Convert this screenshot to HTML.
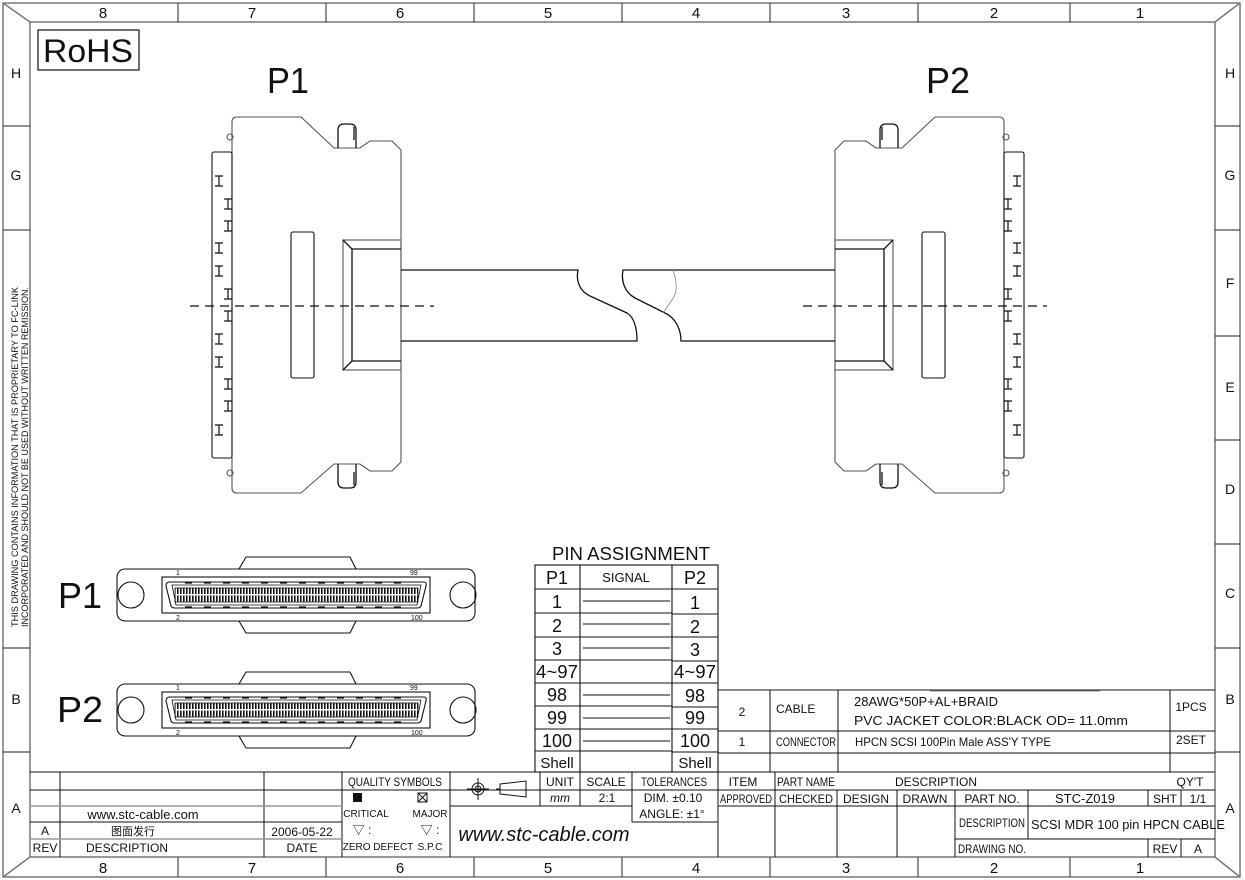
<!DOCTYPE html>
<html><head><meta charset="utf-8"><style>
html,body{margin:0;padding:0;background:#fff}
svg{display:block}
text{font-family:"Liberation Sans","Noto Sans CJK SC",sans-serif;fill:#111}
</style></head><body>
<svg width="1245" height="880" viewBox="0 0 1245 880" xmlns="http://www.w3.org/2000/svg">
<defs>
<pattern id="pins" x="0" y="0" width="3" height="14" patternUnits="userSpaceOnUse">
<rect x="0" y="0" width="1.6" height="6" fill="#111"/>
<rect x="0" y="7.5" width="1.6" height="6" fill="#111"/>
</pattern>
<g id="hh"><path d="M-4,-5H4M0,-5V5M-4,5H4" stroke="#111" stroke-width="1.2" fill="none"/></g>
<g id="conn" fill="none" stroke="#111" stroke-width="1.1">
 <path d="M232,122 Q232,117 237,117 L301,117 L334,148 L360,148 L370,141 L392,141 L401,150 L401,462 L392,471 L370,471 L360,464 L334,464 L301,493 L237,493 Q232,493 232,488 Z" stroke="#555"/>
 <path d="M338,148 V130 Q338,124 344,124 H350 Q356,124 356,130 V148" stroke-width="1.3"/>
 <path d="M354,127 V140" stroke-width="1.3"/>
 <path d="M338,464 V482 Q338,488 344,488 H350 Q356,488 356,482 V464" stroke-width="1.3"/>
 <path d="M354,472 V485" stroke-width="1.3"/>
 <circle cx="230" cy="137" r="3" stroke="#555"/>
 <circle cx="230" cy="473" r="3" stroke="#555"/>
 <rect x="212" y="152" width="20" height="306" rx="2"/>
 <rect x="291" y="232" width="23" height="146" rx="2"/>
 <rect x="343" y="240" width="58" height="130" stroke="#555"/>
 <path d="M401,249 H352 V361 H401 M343,240 L352,249 M343,370 L352,361" stroke-width="1.3"/>
 <use href="#hh" x="219" y="181"/><use href="#hh" x="228" y="204"/><use href="#hh" x="228" y="226"/>
 <use href="#hh" x="219" y="248"/><use href="#hh" x="219" y="271"/><use href="#hh" x="228" y="294"/>
 <use href="#hh" x="228" y="316"/><use href="#hh" x="219" y="339"/><use href="#hh" x="219" y="362"/>
 <use href="#hh" x="228" y="384"/><use href="#hh" x="228" y="406"/><use href="#hh" x="219" y="430"/>
</g>
<g id="mdr" fill="none" stroke="#111" stroke-width="1.1">
 <rect x="117" y="569" width="358" height="52" rx="8"/>
 <path d="M239,569 L246,557 H350 L356,569 M239,621 L246,633 H350 L356,621"/>
 <circle cx="131" cy="595" r="13"/>
 <circle cx="463" cy="595" r="13"/>
 <rect x="162" y="577" width="268" height="36"/>
 <path d="M170,582 H424 Q427,582 426,586 L421,606 Q420,608 417,608 H175 Q172,608 171,606 L166,586 Q166,582 170,582 Z"/>
 <path d="M172,585 H421 L417,605 H176 Z" stroke-width="0.8"/>
 <path d="M185,583 H410 M185,607 H410" stroke-dasharray="7,12" stroke-width="1.2"/>
 <rect x="175" y="588" width="243" height="14" fill="url(#pins)" stroke="none"/>
 <rect x="175" y="588" width="243" height="14" stroke-width="0.8"/>
</g>
</defs>

<!-- border -->
<g fill="none" stroke="#777" stroke-width="1.5">
 <rect x="3" y="3" width="1237" height="874"/>
 <rect x="30" y="22" width="1185" height="835"/>
 <path d="M3,3 L30,22 M1240,3 L1215,22 M3,877 L30,857 M1240,877 L1215,857"/>
</g>
<g stroke="#222" stroke-width="1">
 <path d="M178,3V22 M326,3V22 M474,3V22 M622,3V22 M770,3V22 M918,3V22 M1070,3V22"/>
 <path d="M178,857V877 M326,857V877 M474,857V877 M622,857V877 M770,857V877 M918,857V877 M1070,857V877"/>
 <path d="M3,126H30 M3,230H30 M3,648H30 M3,752H30"/>
 <path d="M1215,126H1240 M1215,230H1240 M1215,336H1240 M1215,440H1240 M1215,544H1240 M1215,648H1240 M1215,752H1240"/>
</g>
<g font-size="15" text-anchor="middle" fill="#333">
 <text x="103" y="18">8</text><text x="252" y="18">7</text><text x="400" y="18">6</text><text x="548" y="18">5</text><text x="696" y="18">4</text><text x="846" y="18">3</text><text x="994" y="18">2</text><text x="1140" y="18">1</text>
 <text x="103" y="873">8</text><text x="252" y="873">7</text><text x="400" y="873">6</text><text x="548" y="873">5</text><text x="696" y="873">4</text><text x="846" y="873">3</text><text x="994" y="873">2</text><text x="1140" y="873">1</text>
</g>
<g font-size="14" text-anchor="middle" fill="#333">
 <text x="16" y="78">H</text><text x="16" y="180">G</text><text x="16" y="704">B</text><text x="16" y="813">A</text>
 <text x="1230" y="78">H</text><text x="1230" y="180">G</text><text x="1230" y="288">F</text><text x="1230" y="392">E</text><text x="1230" y="494">D</text><text x="1230" y="598">C</text><text x="1230" y="704">B</text><text x="1230" y="813">A</text>
</g>
<g font-size="9" fill="#222">
 <text transform="translate(18,627) rotate(-90)" textLength="340" lengthAdjust="spacingAndGlyphs">THIS DRAWING CONTAINS INFORMATION THAT IS PROPRIETARY TO FC-LINK</text>
 <text transform="translate(28,627) rotate(-90)" textLength="340" lengthAdjust="spacingAndGlyphs">INCORPORATED AND SHOULD NOT BE USED WITHOUT WRITTEN REMISSION.</text>
</g>

<!-- RoHS -->
<rect x="38" y="30" width="101" height="40" fill="none" stroke="#111" stroke-width="1.2"/>
<text x="88" y="62" font-size="32" text-anchor="middle" fill="#333" textLength="90" lengthAdjust="spacingAndGlyphs">RoHS</text>
<text x="288" y="93" font-size="36" text-anchor="middle" fill="#555" textLength="42" lengthAdjust="spacingAndGlyphs">P1</text>
<text x="948" y="93" font-size="36" text-anchor="middle" fill="#555" textLength="44" lengthAdjust="spacingAndGlyphs">P2</text>

<!-- connectors -->
<use href="#conn"/>
<use href="#conn" transform="translate(1236,0) scale(-1,1)"/>
<g fill="none" stroke="#111" stroke-width="1.3">
 <path d="M401,270 H578 C576,280 579,291 590,296 L627,313 C635,318 637,330 637,341 H401"/>
 <path d="M835,270 H623 C621,280 624,292 635,298 L665,313 C676,318 681,330 681,341 H835"/>
 <path d="M673,270 C677,282 678,292 672,300 L663,313" stroke="#888" stroke-width="0.8"/>
 <path d="M190,306 H434 M803,306 H1047" stroke-dasharray="9,6"/>
</g>

<!-- bottom connectors -->
<text x="80" y="608" font-size="36" text-anchor="middle" fill="#555" textLength="44" lengthAdjust="spacingAndGlyphs">P1</text>
<text x="80" y="722" font-size="36" text-anchor="middle" fill="#555" textLength="46" lengthAdjust="spacingAndGlyphs">P2</text>
<use href="#mdr"/>
<use href="#mdr" y="115"/>
<g font-size="7" fill="#222">
 <text x="176" y="575">1</text><text x="410" y="575">99</text><text x="176" y="620">2</text><text x="411" y="620">100</text>
 <text x="176" y="690">1</text><text x="410" y="690">99</text><text x="176" y="735">2</text><text x="411" y="735">100</text>
</g>

<!-- pin table -->
<text x="631" y="560" font-size="18" text-anchor="middle" fill="#333" textLength="158" lengthAdjust="spacingAndGlyphs">PIN  ASSIGNMENT</text>
<g fill="none" stroke="#111" stroke-width="1.1">
 <rect x="535" y="565" width="183" height="207"/>
 <path d="M580,565V772 M672,565V772"/>
 <path d="M535,589H580 M672,589H718 M535,613H580 M672,614H718 M535,637H580 M672,637H718 M535,660H580 M672,661H718 M535,683H580 M672,683H718 M535,706H580 M672,707H718 M535,729H580 M672,729H718 M535,751H580 M672,752H718"/>
 <path d="M580,589H672 M583,601H670 M580,613H672 M583,624H670 M580,637H672 M583,648H670 M580,660H672 M580,683H672 M583,695H670 M580,706H672 M583,718H670 M580,729H672 M583,741H670 M580,751H672"/>
</g>
<g font-size="18" text-anchor="middle" fill="#555">
 <text x="557" y="584">P1</text><text x="695" y="584">P2</text>
 <text x="557" y="608">1</text><text x="695" y="609">1</text>
 <text x="557" y="632">2</text><text x="695" y="633">2</text>
 <text x="557" y="655">3</text><text x="695" y="656">3</text>
 <text x="557" y="678" textLength="42" lengthAdjust="spacingAndGlyphs">4~97</text><text x="695" y="678" textLength="42" lengthAdjust="spacingAndGlyphs">4~97</text>
 <text x="557" y="701">98</text><text x="695" y="702">98</text>
 <text x="557" y="724">99</text><text x="695" y="724">99</text>
 <text x="557" y="747">100</text><text x="695" y="747">100</text>
 <text x="557" y="768" font-size="15">Shell</text><text x="695" y="768" font-size="15">Shell</text>
</g>
<text x="626" y="582" font-size="13" text-anchor="middle" fill="#333">SIGNAL</text>

<!-- BOM -->
<g fill="none" stroke="#111" stroke-width="1">
 <path d="M718,690 H1170 M718,690 V857 M1170,690 V772 M1215,690 H1170"/>
 <path d="M770,690V772 M838,690V772 M718,731H1215 M718,753H1215 M30,772H1215 M30,790H1215"/>
 <path d="M930,691 H1100" stroke="#888"/>
</g>
<g font-size="12" fill="#222">
 <text x="742" y="716" text-anchor="middle">2</text>
 <text x="776" y="713">CABLE</text>
 <text x="854" y="706" font-size="13">28AWG*50P+AL+BRAID</text>
 <text x="854" y="725" font-size="13" textLength="274" lengthAdjust="spacingAndGlyphs">PVC  JACKET  COLOR:BLACK  OD=  11.0mm</text>
 <text x="1191" y="711" text-anchor="middle">1PCS</text>
 <text x="742" y="746" text-anchor="middle">1</text>
 <text x="776" y="746" textLength="60" lengthAdjust="spacingAndGlyphs">CONNECTOR</text>
 <text x="855" y="746" textLength="196" lengthAdjust="spacingAndGlyphs">HPCN  SCSI  100Pin  Male  ASS'Y  TYPE</text>
 <text x="1191" y="744" text-anchor="middle">2SET</text>
 <text x="743" y="786" text-anchor="middle">ITEM</text>
 <text x="806" y="786" text-anchor="middle" textLength="58" lengthAdjust="spacingAndGlyphs">PART NAME</text>
 <text x="936" y="786" text-anchor="middle">DESCRIPTION</text>
 <text x="1190" y="786" text-anchor="middle">QY'T</text>
</g>

<!-- title block -->
<g fill="none" stroke="#111" stroke-width="1">
 <path d="M30,806H342 M30,822H342 M30,839H342 M60,772V857 M264,772V857 M342,772V857"/>
 <path d="M450,772V857 M540,772V806 M580,772V806 M632,772V822 M450,806H632 M632,822H718"/>
 <path d="M718,806H955 M775,772V857 M837,790V857 M897,790V857 M955,790V857 M1028,790V839 M955,839H1215 M1148,790V806 M1181,790V806 M955,806H1215 M1148,839V857 M1181,839V857"/>
</g>
<path d="M30,806H342 M30,839H342" stroke="#999" stroke-width="1.5"/>
<g font-size="12" fill="#222" text-anchor="middle">
 <text x="143" y="819" font-family="Liberation Serif, serif" fill="#666" font-size="13">www.stc-cable.com</text>
 <text x="45" y="835">A</text>
 <text x="133" y="835" font-size="11">图面发行</text>
 <text x="302" y="836">2006-05-22</text>
 <text x="45" y="852">REV</text>
 <text x="127" y="852">DESCRIPTION</text>
 <text x="302" y="852">DATE</text>
 <text x="395" y="786" textLength="94" lengthAdjust="spacingAndGlyphs">QUALITY  SYMBOLS</text>
 <text x="366" y="817" font-size="10">CRITICAL</text>
 <text x="430" y="817" font-size="10">MAJOR</text>
 <text x="362" y="834">▽ :</text>
 <text x="430" y="834">▽ :</text>
 <text x="378" y="850" font-size="10">ZERO DEFECT</text>
 <text x="430" y="850" font-size="10">S.P.C</text>
 <text x="560" y="786">UNIT</text>
 <text x="606" y="786">SCALE</text>
 <text x="674" y="786" textLength="66" lengthAdjust="spacingAndGlyphs">TOLERANCES</text>
 <text x="560" y="802" font-style="italic">mm</text>
 <text x="607" y="802">2:1</text>
 <text x="673" y="802">DIM.  ±0.10</text>
 <text x="672" y="818">ANGLE:  ±1°</text>
 <text x="544" y="841" font-family="Liberation Serif, serif" font-style="italic" font-size="20" fill="#444">www.stc-cable.com</text>
 <text x="746" y="803" textLength="52" lengthAdjust="spacingAndGlyphs">APPROVED</text>
 <text x="806" y="803" textLength="54" lengthAdjust="spacingAndGlyphs">CHECKED</text>
 <text x="866" y="803">DESIGN</text>
 <text x="925" y="803">DRAWN</text>
 <text x="992" y="803">PART NO.</text>
 <text x="1085" y="803" font-family="Liberation Serif, serif" fill="#666" font-size="13">STC-Z019</text>
 <text x="1165" y="803">SHT</text>
 <text x="1198" y="803">1/1</text>
 <text x="992" y="827" textLength="66" lengthAdjust="spacingAndGlyphs">DESCRIPTION</text>
 <text x="1128" y="829" font-family="Liberation Serif, serif" fill="#555" font-size="13" textLength="194" lengthAdjust="spacingAndGlyphs">SCSI MDR 100 pin HPCN CABLE</text>
 <text x="992" y="853" textLength="68" lengthAdjust="spacingAndGlyphs">DRAWING NO.</text>
 <text x="1165" y="853">REV</text>
 <text x="1198" y="853">A</text>
</g>
<rect x="353" y="793" width="9" height="9" fill="#111"/>
<g fill="none" stroke="#111" stroke-width="1">
 <rect x="418" y="793" width="9" height="9"/><path d="M418,793L427,802M427,793L418,802"/>
 <circle cx="478" cy="789" r="6"/><circle cx="478" cy="789" r="3"/><path d="M467,789H489M478,778V800"/>
 <path d="M496,789H500 M500,784 L526,781 V797 L500,794 Z"/>
</g>
</svg>
</body></html>
